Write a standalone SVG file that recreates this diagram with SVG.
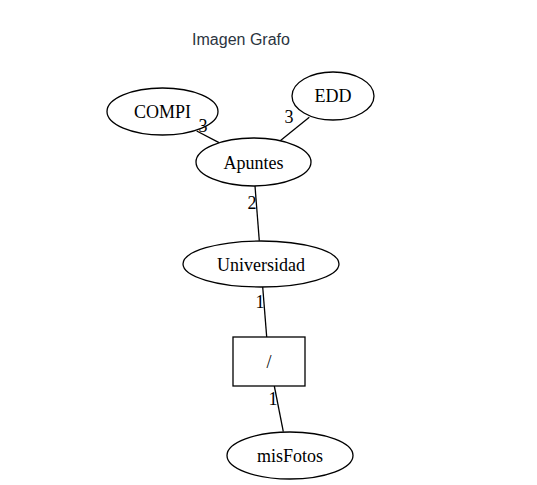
<svg xmlns="http://www.w3.org/2000/svg" width="537" height="485" viewBox="0 0 537 485">
<style>
.n{fill:#fff;stroke:#000;stroke-width:1.3}
.t{font-family:"Liberation Serif",serif;font-size:18px;text-anchor:middle;fill:#000}
.e{stroke:#000;stroke-width:1.3;fill:none}
.title{font-family:"Liberation Sans",Arial,sans-serif;font-size:16px;text-anchor:middle;fill:#2b3440}
</style>
<rect width="537" height="485" fill="#fff"/>
<text class="title" x="241" y="45">Imagen Grafo</text>
<g id="connectors">
<line class="e" x1="196.7" y1="131" x2="219" y2="142.7"/>
<line class="e" x1="309.3" y1="117.3" x2="279" y2="141.7"/>
<line class="e" x1="255" y1="186" x2="259.3" y2="240.7"/>
<line class="e" x1="262.7" y1="287" x2="266.7" y2="337"/>
<line class="e" x1="274.3" y1="386" x2="283.3" y2="431.7"/>
</g>
<g id="COMPI"><ellipse class="n" cx="162.5" cy="111.5" rx="55.5" ry="23.5"/><text class="t" x="162.5" y="117.5">COMPI</text></g>
<g id="EDD"><ellipse class="n" cx="333" cy="96" rx="41" ry="24"/><text class="t" x="333" y="102">EDD</text></g>
<g id="Apuntes"><ellipse class="n" cx="253.5" cy="162" rx="57.5" ry="24"/><text class="t" x="253.5" y="168.5">Apuntes</text></g>
<g id="Universidad"><ellipse class="n" cx="261" cy="264" rx="78" ry="23"/><text class="t" x="261" y="270.5">Universidad</text></g>
<g id="root"><rect class="n" x="233" y="337" width="72" height="49"/><text class="t" x="269" y="367.5">/</text></g>
<g id="misFotos"><ellipse class="n" cx="290" cy="455.5" rx="63" ry="23.5"/><text class="t" x="290" y="462">misFotos</text></g>
<g id="edge-labels">
<text class="t" x="203" y="132">3</text>
<text class="t" x="289" y="123">3</text>
<text class="t" x="252" y="209">2</text>
<text class="t" x="260" y="308">1</text>
<text class="t" x="273" y="405">1</text>
</g>
</svg>
